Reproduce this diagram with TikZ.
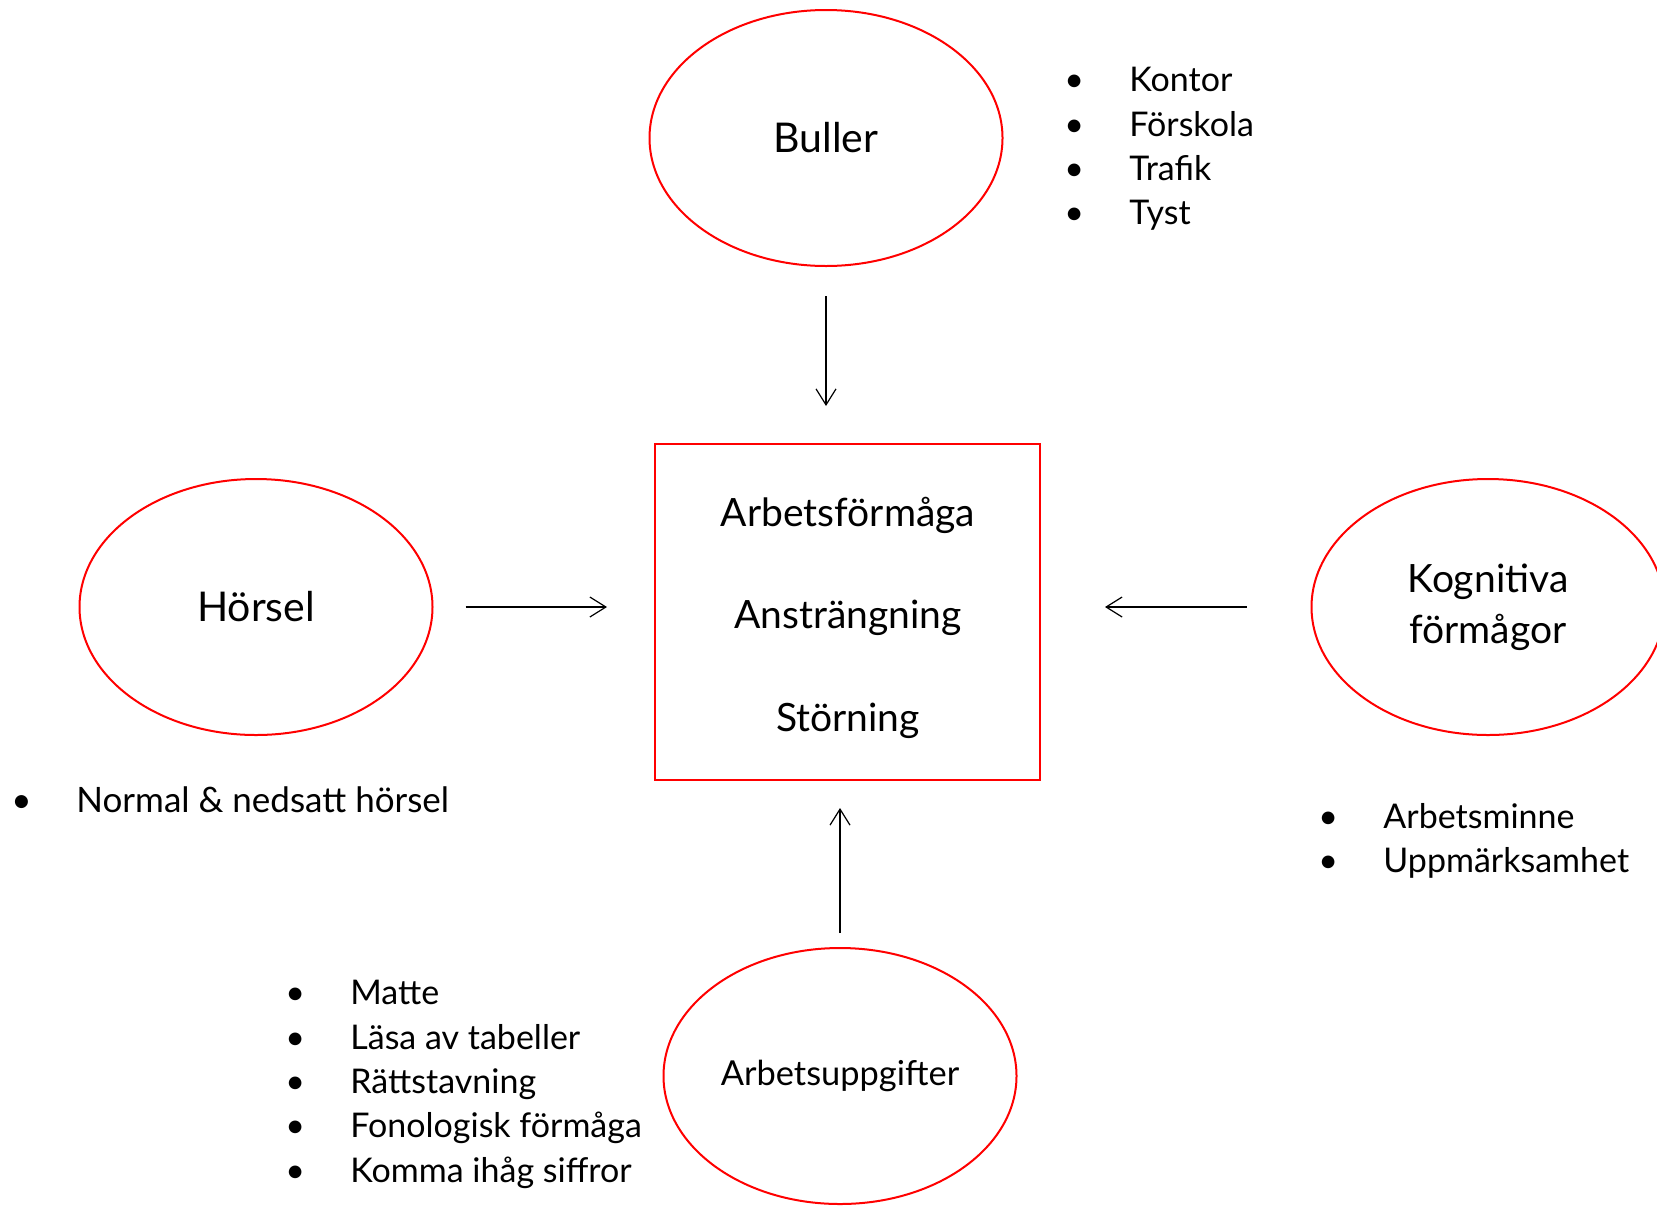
\documentclass[tikz,border=0pt]{standalone}
\usepackage{fontspec}
\setmainfont{Lato}
\usetikzlibrary{arrows.meta,shapes.geometric}

\newcommand{\blt}{\makebox[32.5pt][l]{\textbullet}}

\tikzset{
  oval/.style={ellipse,draw=red,line width=1pt,minimum width=176.5pt,minimum height=128pt,
    inner sep=0pt,align=center,font=\fontsize{20.5}{25.5}\selectfont},
  box/.style={draw=red,line width=1pt,minimum width=192.5pt,minimum height=168pt,inner sep=0pt},
  boxtxt/.style={inner sep=0pt,align=center,font=\fontsize{19.5}{51.25}\selectfont},
  lst/.style={anchor=north west,inner sep=0pt,align=left,font=\fontsize{17}{22.2}\selectfont},
  pil/.style={-{Straight Barb[length=8pt,width=10pt]},line width=0.6pt}
}

\begin{document}
\begin{tikzpicture}[x=0.5pt,y=-0.5pt]
\useasboundingbox (0,0) rectangle (1657,1205);

% CENTRE
\node[box] (box) at (847.5,612) {};
\node[boxtxt] (boxtext) at (848,617.5) {Arbetsförmåga\\Ansträngning\\Störning};

% BULLER
\node[oval] (buller) at (826,138) {Buller};
\node[lst] (bullerlist) at (1064,67) {\blt Kontor\\\blt Förskola\\\blt Trafik\\\blt Tyst};

% HORSEL
\node[oval] (horsel) at (256,607) {Hörsel};
\node[lst,font=\fontsize{17.5}{22.2}\selectfont] (horsellist) at (11,786) {\blt Normal \& nedsatt hörsel};

% KOGNITIVA
\node[oval,font=\fontsize{19.5}{25.5}\selectfont] (kogn) at (1488,607) {Kognitiva\\förmågor};
\node[lst] (kognlist) at (1318,803) {\blt Arbetsminne\\\blt Uppmärksamhet};

% ARBETSUPPGIFTER
\node[oval,font=\fontsize{17.2}{22}\selectfont] (uppg) at (840,1076) {Arbetsuppgifter};
\node[lst] (uppglist) at (285,980) {\blt Matte\\\blt Läsa av tabeller\\\blt Rättstavning\\\blt Fonologisk förmåga\\\blt Komma ihåg siffror};

% arrows
\draw[pil,shorten <=14.5pt,shorten >=18.5pt] (buller.south) -- (buller.south |- box.north);
\draw[pil,shorten <=16pt,shorten >=23.5pt] (horsel.east) -- (horsel.east -| box.west);
\draw[pil,shorten <=32pt,shorten >=32pt] (kogn.west) -- (kogn.west -| box.east);
\draw[pil,shorten <=7pt,shorten >=13.5pt] (uppg.north) -- (uppg.north |- box.south);
\end{tikzpicture}
\end{document}
